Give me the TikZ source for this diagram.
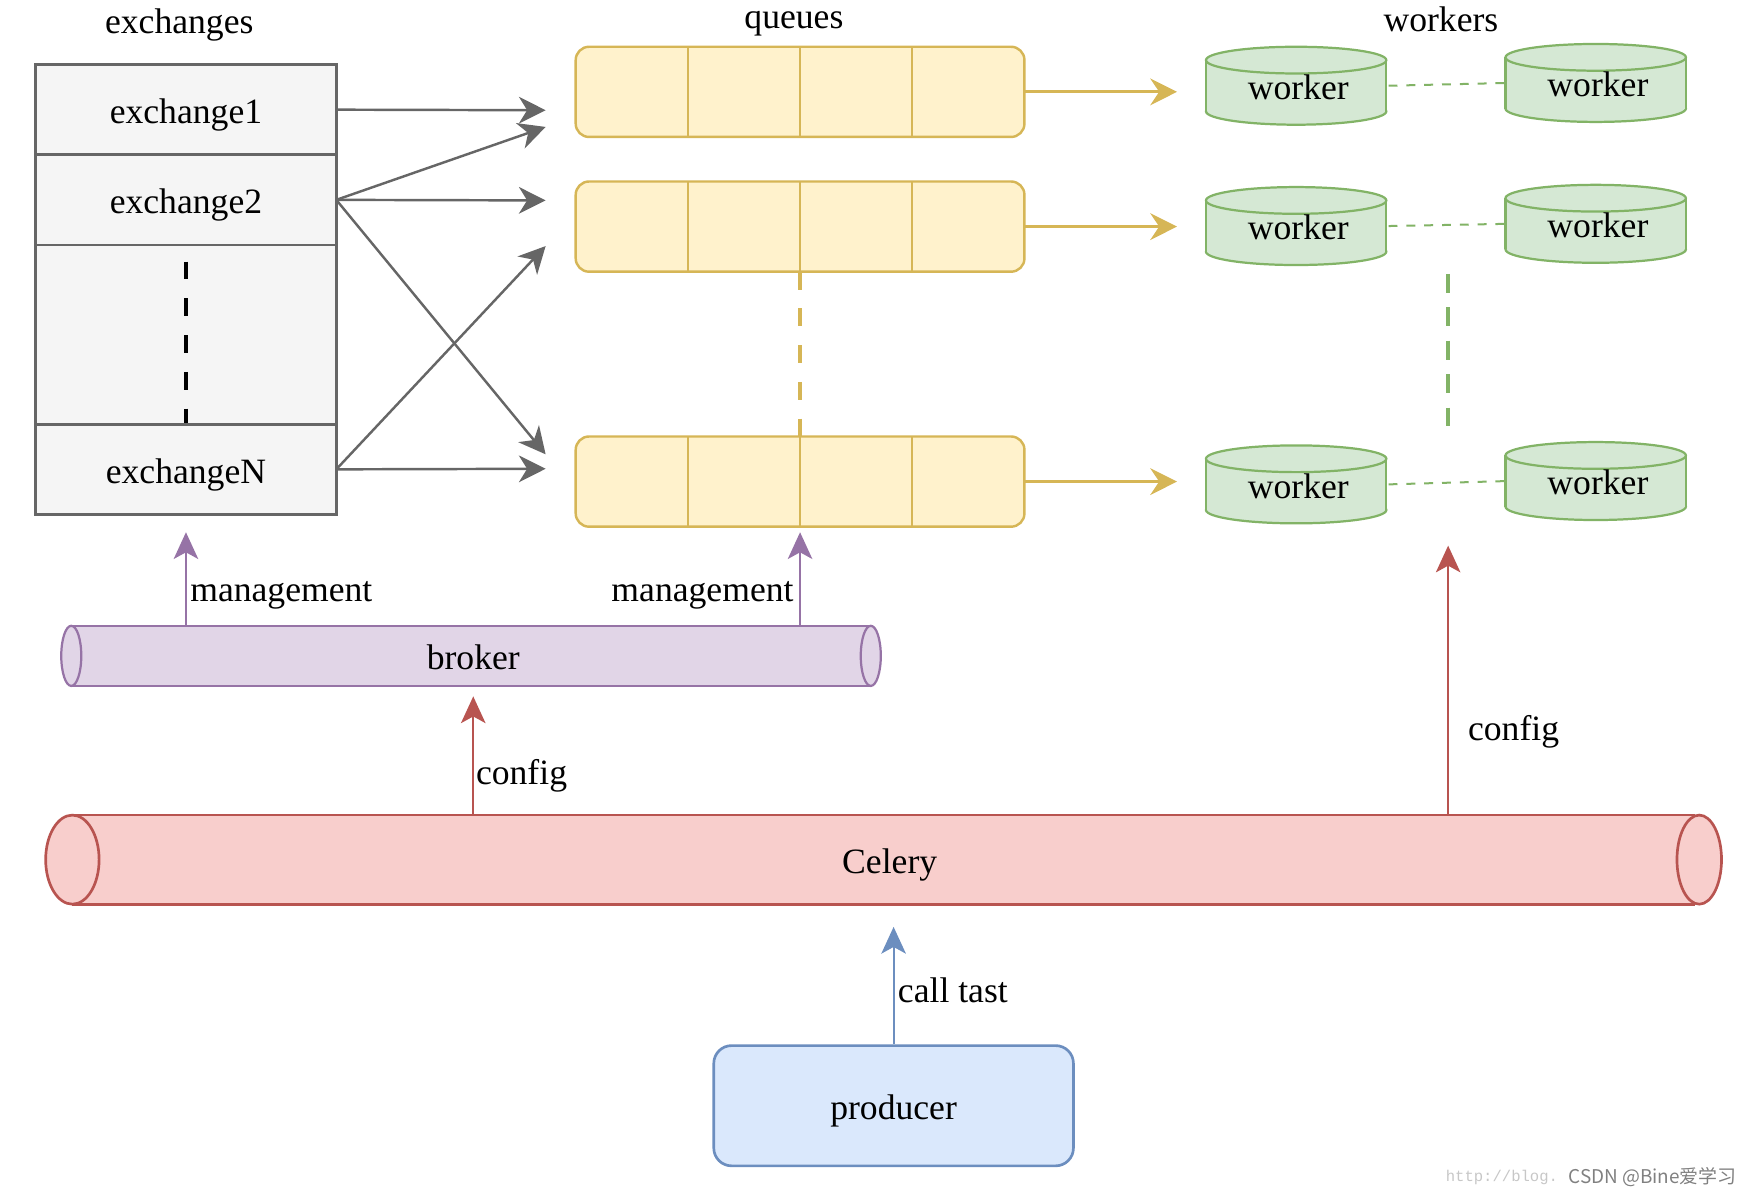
\documentclass[tikz,border=0pt]{standalone}
\usepackage{fontspec}
\setmainfont{Liberation Serif}
\setmonofont{Liberation Mono}
\newfontfamily\cjkfont{Noto Sans CJK SC}
\usetikzlibrary{arrows.meta,calc}
\definecolor{exfill}{HTML}{F5F5F5}
\definecolor{exdraw}{HTML}{666666}
\definecolor{qfill}{HTML}{FFF2CC}
\definecolor{qdraw}{HTML}{D6B656}
\definecolor{wfill}{HTML}{D5E8D4}
\definecolor{wdraw}{HTML}{82B366}
\definecolor{bfill}{HTML}{E1D5E7}
\definecolor{bdraw}{HTML}{9673A6}
\definecolor{cfill}{HTML}{F8CECC}
\definecolor{cdraw}{HTML}{B85450}
\definecolor{pfill}{HTML}{DAE8FC}
\definecolor{pdraw}{HTML}{6C8EBF}
\tikzset{
  txt/.style={font=\fontsize{16}{19}\selectfont, text height=12.5pt, text depth=0pt},
  exbox/.style={draw=exdraw, fill=exfill, line width=1.2pt, minimum width=135pt, minimum height=40.5pt, inner sep=0pt, outer sep=0pt, txt},
  qbox/.style={draw=qdraw, fill=qfill, line width=1.1pt, rounded corners=6pt, minimum width=201.5pt, minimum height=40.5pt, inner sep=0pt, outer sep=0pt},
  qdiv/.style={draw=qdraw, line width=1.1pt},
  wkshape/.style={draw=wdraw, fill=wfill, line width=1pt},
  wkline/.style={draw=wdraw, line width=1pt},
  wknode/.style={minimum width=81pt, minimum height=35pt, inner sep=0pt, outer sep=0pt, txt},
  grayarr/.style={draw=exdraw, line width=1.1pt, -{Stealth[length=12pt,width=12pt,inset=3.7pt]}},
  yelarr/.style={draw=qdraw, line width=1.4pt, -{Stealth[length=12pt,width=12pt,inset=4pt]}},
  purarr/.style={draw=bdraw, line width=0.9pt, -{Stealth[length=12pt,width=11pt,inset=3pt]}},
  redarr/.style={draw=cdraw, line width=0.9pt, -{Stealth[length=12pt,width=11pt,inset=3pt]}},
  bluarr/.style={draw=pdraw, line width=0.9pt, -{Stealth[length=12pt,width=11pt,inset=3pt]}},
  bigdash/.style={line width=2.2pt, dash pattern=on 8pt off 8.5pt},
  smalldash/.style={draw=wdraw, line width=0.9pt, dash pattern=on 4pt off 4pt},
  lbl/.style={txt, inner sep=1.5pt},
}
\newcommand{\workercyl}[3]{%
  \filldraw[wkshape] (#2,{#3+23}) ellipse [x radius=40.5pt, y radius=6pt];
  \fill[wfill] ({#2-81},{#3-23}) rectangle ({#2+81},{#3+23});
  \draw[wkline] ({#2-81},{#3-23}) -- ({#2-81},{#3+23}) ({#2+81},{#3-23}) -- ({#2+81},{#3+23});
  \filldraw[wkshape] (#2,{#3-23}) ellipse [x radius=40.5pt, y radius=6pt];
  \node[wknode] (#1) at ({#2+2},#3) {worker};
}
\begin{document}
\begin{tikzpicture}[x=0.5pt,y=-0.5pt]
\useasboundingbox (0,0) rectangle (1568,1074);

% titles
\node[txt] (tex) at (161,18) {exchanges};
\node[txt, text height=8pt, inner sep=0pt] (tq) at (713,18) {queues};
\node[txt] (tw) at (1294,16) {workers};

% exchanges
\node[exbox] (ex1) at (167,98.5) {exchange1};
\node[exbox] (ex2) at (167,179.5) {exchange2};
\node[exbox, minimum height=80.5pt] (exd) at (167,300.5) {};
\node[exbox] (exN) at (167,421.5) {exchangeN};
\draw[bigdash, draw=black, shorten <=7.5pt, shorten >=0.5pt] (exd.north) -- (exd.south);

% queues
\foreach \n/\y in {q1/82.5, q2/203.5, q3/432.5}{
  \node[qbox] (\n) at (718.5,\y) {};
  \foreach \f in {0.25,0.5,0.75}
    \draw[qdiv] ($(\n.north west)!\f!(\n.north east)$) -- ($(\n.south west)!\f!(\n.south east)$);
}
\draw[bigdash, draw=qdraw, line width=2pt] (q2.south) -- (q3.north);

% exchange -> queue connectors
\draw[grayarr] (ex1.east) -- ($(q1.west)+(-27,16.5)$);
\draw[grayarr] (ex2.east) -- ($(q1.west)+(-27,31.5)$);
\draw[grayarr] (ex2.east) -- ($(q2.west)+(-27,-23.5)$);
\draw[grayarr] (ex2.east) -- ($(q3.west)+(-27,-24.5)$);
\draw[grayarr] (exN.east) -- ($(q2.west)+(-27,17.5)$);
\draw[grayarr] (exN.east) -- ($(q3.west)+(-27,-11.5)$);

% workers
\workercyl{wl1}{1164}{77}
\workercyl{wr1}{1433}{74.5}
\workercyl{wl2}{1164}{203}
\workercyl{wr2}{1433}{201}
\workercyl{wl3}{1164}{435}
\workercyl{wr3}{1433}{432}

\draw[smalldash] (wl1.east) -- (wr1.west);
\draw[smalldash] (wl2.east) -- (wr2.west);
\draw[smalldash] (wl3.east) -- (wr3.west);
\coordinate (wgapa) at ($(wl2.south east)!0.5!(wr2.south west)$);
\coordinate (wgapb) at ($(wl3.north east)!0.5!(wr3.north west)$);
\coordinate (wgap) at ($(wl3.south east)!0.5!(wr3.south west)$);
\draw[bigdash, draw=wdraw, line width=2pt, dash pattern=on 8.5pt off 6.5pt, shorten <=4.5pt, shorten >=8pt] (wgapa) -- (wgapb);

% queue -> worker connectors
\draw[yelarr, shorten >=14pt] (q1.east) -- (q1.east -| wl1.west);
\draw[yelarr, shorten >=14pt] (q2.east) -- (q2.east -| wl2.west);
\draw[yelarr, shorten >=14pt] (q3.east) -- (q3.east -| wl3.west);

% broker cylinder
\fill[bfill] (64,562) rectangle (782,616);
\draw[draw=bdraw, line width=1pt] (64,562) -- (782,562) (64,616) -- (782,616);
\filldraw[draw=bdraw, fill=bfill, line width=1pt] (64,589) ellipse [x radius=4.5pt, y radius=13.5pt];
\filldraw[draw=bdraw, fill=bfill, line width=1pt] (782,589) ellipse [x radius=4.5pt, y radius=13.5pt];
\node[txt, minimum width=368pt, minimum height=27pt, inner sep=0pt] (broker) at (425,589) {broker};

% celery cylinder
\fill[cfill] (65,732) rectangle (1522,812);
\draw[draw=cdraw, line width=1.2pt] (65,732) -- (1522,732) (65,812) -- (1522,812);
\filldraw[draw=cdraw, fill=cfill, line width=1.2pt] (65,772) ellipse [x radius=12pt, y radius=20pt];
\filldraw[draw=cdraw, fill=cfill, line width=1.2pt] (1526,772) ellipse [x radius=10pt, y radius=20pt];
\node[txt, minimum width=740pt, minimum height=40pt, inner sep=0pt] (celery) at (799,772) {Celery};

% producer
\node[draw=pdraw, fill=pfill, line width=1.2pt, rounded corners=8pt, minimum width=161.5pt, minimum height=54pt, inner sep=0pt, txt] (producer) at (802.5,993) {producer};

% management arrows
\draw[purarr, shorten >=8pt] (exN.south |- broker.north) -- node[lbl, anchor=west, pos=0.34] {management} (exN.south);
\draw[purarr, shorten >=2.5pt] (q3.south |- broker.north) -- node[lbl, anchor=east, pos=0.38, xshift=-1pt] {management} (q3.south);

% config arrows
\draw[redarr, shorten >=4.5pt] (broker.south |- celery.north) -- node[lbl, anchor=west, pos=0.34, inner sep=0.8pt] {config} (broker.south);
\draw[redarr, shorten >=10.75pt] (wgap |- celery.north) -- node[lbl, anchor=west, pos=0.30, xshift=7pt] {config} (wgap);

% call task
\draw[bluarr, shorten >=10pt] (producer.north) -- node[lbl, anchor=west, pos=0.40] {call tast} (producer.north |- celery.south);

% watermark
\node[anchor=west, inner sep=0pt, text=black!22, font=\fontsize{7}{8}\ttfamily] (wm1) at (1298,1057) {http://blog.};
\node[anchor=east, inner sep=0pt, text=black!50, font=\fontsize{8.5}{10}\cjkfont] (wm2) at (1560,1057) {CSDN @Bine爱学习};
\end{tikzpicture}
\end{document}
